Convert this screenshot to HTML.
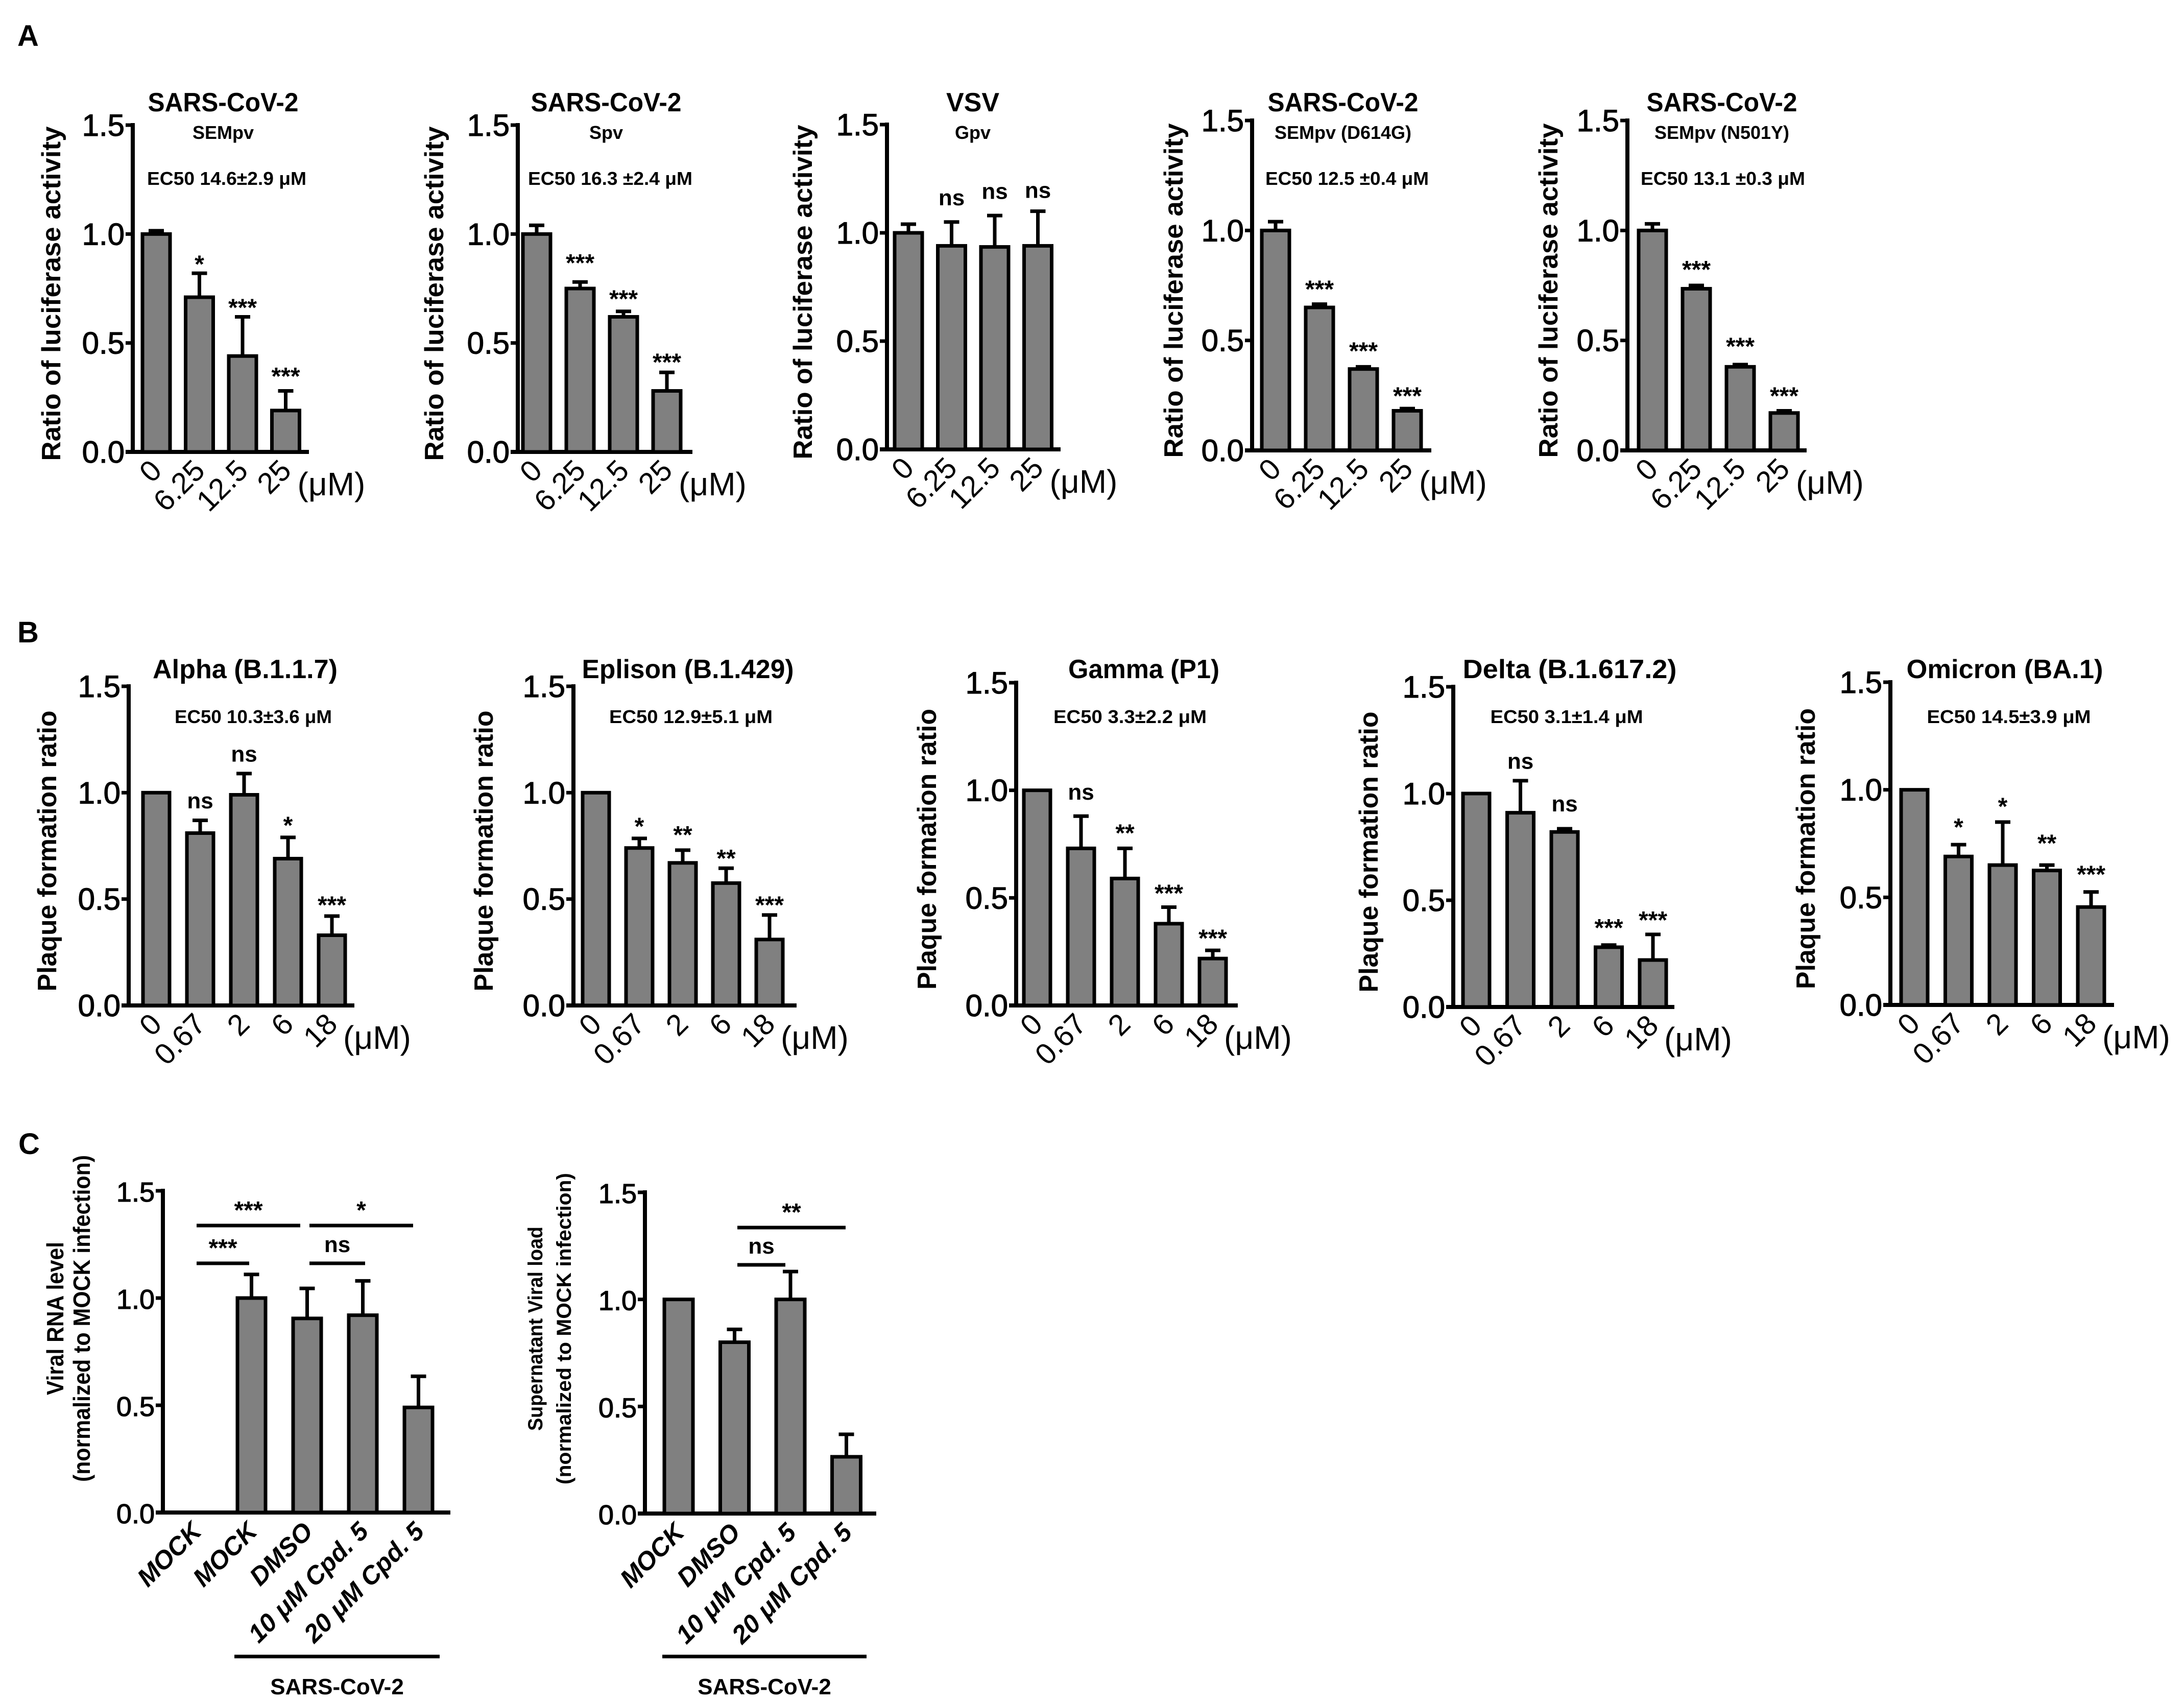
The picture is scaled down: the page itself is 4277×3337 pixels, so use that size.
<!DOCTYPE html>
<html><head><meta charset="utf-8"><style>
html,body{margin:0;padding:0;background:#fff}
svg{display:block}
text{font-family:"Liberation Sans",sans-serif;fill:#000}
</style></head><body>
<svg id="fig" width="4277" height="3337" viewBox="0 0 4277 3337" xmlns="http://www.w3.org/2000/svg">
<text x="34" y="90" font-size="58" font-weight="bold">A</text>
<text x="34" y="1258" font-size="58" font-weight="bold">B</text>
<text x="36" y="2260" font-size="58" font-weight="bold">C</text>
</svg>
<script>
// ---------- data ----------
const doseA = ["0","6.25","12.5","25"];
const doseB = ["0","0.67","2","6","18"];
const a1Values = [1.0, 0.71, 0.44, 0.19];
const a1Err = [1.015, 0.82, 0.62, 0.28];
const a1Sig = ["", "*", "***", "***"];
const a1SigY = [0, 0.89, 0.69, 0.375];
const a2Values = [1.0, 0.75, 0.62, 0.28];
const a2Err = [1.04, 0.78, 0.645, 0.365];
const a2Sig = ["", "***", "***", "***"];
const a2SigY = [0, 0.895, 0.73, 0.44];
const a3Values = [1.0, 0.94, 0.935, 0.94];
const a3Err = [1.04, 1.05, 1.08, 1.10];
const a3Sig = ["", "ns", "ns", "ns"];
const a3SigY = [0, 1.16, 1.19, 1.195];
const a4Values = [1.0, 0.65, 0.37, 0.18];
const a4Err = [1.04, 0.665, 0.38, 0.19];
const a4Sig = ["", "***", "***", "***"];
const a4SigY = [0, 0.76, 0.48, 0.275];
const a5Values = [1.0, 0.735, 0.38, 0.17];
const a5Err = [1.03, 0.75, 0.39, 0.18];
const a5Sig = ["", "***", "***", "***"];
const a5SigY = [0, 0.85, 0.5, 0.275];
const b1Values = [1.0, 0.81, 0.99, 0.69, 0.33];
const b1Err = [1.0, 0.87, 1.09, 0.79, 0.42];
const b1Sig = ["", "ns", "ns", "*", "***"];
const b1SigY = [0, 0.96, 1.18, 0.875, 0.5];
const b2Values = [1.0, 0.74, 0.67, 0.575, 0.31];
const b2Err = [1.0, 0.785, 0.73, 0.645, 0.425];
const b2Sig = ["", "*", "**", "**", "***"];
const b2SigY = [0, 0.87, 0.83, 0.72, 0.5];
const b3Values = [1.0, 0.73, 0.59, 0.38, 0.218];
const b3Err = [1.0, 0.88, 0.73, 0.457, 0.256];
const b3Sig = ["", "ns", "**", "***", "***"];
const b3SigY = [0, 0.99, 0.83, 0.55, 0.34];
const b4Values = [1.0, 0.91, 0.82, 0.28, 0.22];
const b4Err = [1.0, 1.06, 0.835, 0.29, 0.34];
const b4Sig = ["", "ns", "ns", "***", "***"];
const b4SigY = [0, 1.15, 0.95, 0.4, 0.435];
const b5Values = [1.0, 0.69, 0.65, 0.625, 0.455];
const b5Err = [1.0, 0.745, 0.85, 0.65, 0.525];
const b5Sig = ["", "*", "*", "**", "***"];
const b5SigY = [0, 0.855, 0.95, 0.78, 0.635];
const c1Cats = ["MOCK","MOCK","DMSO","10 \u03bcM Cpd. 5","20 \u03bcM Cpd. 5"];
const c1Values = [0, 1.0, 0.905, 0.92, 0.49];
const c1Err = [0, 1.11, 1.045, 1.08, 0.635];
const c2Cats = ["MOCK","DMSO","10 \u03bcM Cpd. 5","20 \u03bcM Cpd. 5"];
const c2Values = [1.0, 0.8, 1.0, 0.265];
const c2Err = [1.0, 0.86, 1.13, 0.37];
const yTicks = [0, 0.5, 1.0, 1.5];
const yTickLabels = ["0.0","0.5","1.0","1.5"];

// ---------- drawing ----------
const svg = document.getElementById('fig');
const NS = 'http://www.w3.org/2000/svg';
function mk(tag, attrs, parent){
  const e = document.createElementNS(NS, tag);
  for (const k in attrs) e.setAttribute(k, attrs[k]);
  (parent||svg).appendChild(e);
  return e;
}
function txt(s, attrs, parent){ const t = mk('text', attrs, parent); t.textContent = s; return t; }

function panel(p){
  const g = mk('g', {});
  
  
  const unit = (p.y0 - p.y15) / 1.5;
  const yS = v => p.y0 - v * unit;
  const ax = mk('line', {x1:p.ax, y1:p.y15-4, x2:p.ax, y2:p.y0+4, stroke:'#000','stroke-width':8}, g);
  
  
  const bx = mk('line', {x1:p.ax-14, y1:p.y0, x2:p.xEnd, y2:p.y0, stroke:'#000','stroke-width':8}, g);
  
  
  yTicks.forEach((v,i)=>{
    mk('line', {x1:p.ax-14, y1:yS(v), x2:p.ax, y2:yS(v), stroke:'#000','stroke-width':7}, g);
    const t = txt(yTickLabels[i], {x:p.ax-16, y:yS(v)+21, 'font-size':p.tickFs||60, 'text-anchor':'end', stroke:'#000', 'stroke-width':1.2}, g);
    
    
  });
  p.ylab.forEach(l=>{
    const t = txt(l.s, {x:0, y:0, 'font-size':l.fs, 'font-weight':'bold', 'text-anchor':'middle',
      transform:`translate(${l.x},${l.y}) rotate(-90)`, textLength:l.len, lengthAdjust:'spacingAndGlyphs'}, g);
    
    
  });
  p.values.forEach((v,i)=>{
    const x = p.bar0 + i*p.step;
    const cx = x + p.bw/2;
    if (v > 0){
      if (p.err[i] > v + 0.003){
        const e1 = mk('line', {x1:cx, y1:yS(v), x2:cx, y2:yS(p.err[i]), stroke:'#000','stroke-width':7}, g);
        
        
        mk('line', {x1:cx-15, y1:yS(p.err[i]), x2:cx+15, y2:yS(p.err[i]), stroke:'#000','stroke-width':7}, g);
      }
      const r = mk('rect', {x:x, y:yS(v), width:p.bw, height:p.y0-yS(v), fill:'#808080', stroke:'#000','stroke-width':7}, g);
      
      
    }
    if (p.sig && p.sig[i]){
      const s = p.sig[i];
      const star = s.indexOf('*')>=0;
      const t = txt(s, {x:cx, y:yS(p.sigY[i]) + (star?28:14), 'font-size': star?48:44, 'text-anchor':'middle', 'font-weight':'bold'}, g);
      
      
    }
    const lab = p.cats[i];
    const tx = cx + 14, ty = p.y0 + (p.xlOff||42);
    const t = txt(lab, {x:0, y:0, 'font-size':p.xFs||58, 'text-anchor':'end', 'font-style':p.italic?'italic':'normal', 'font-weight':p.italic?'bold':'normal',
      transform:`translate(${tx},${ty}) rotate(-45)`}, g);
    
    
  });
  if (p.unitX){
    const t = txt('(\u03bcM)', {x:p.unitX, y:p.y0+85, 'font-size':64}, g);
    
    
  }
  (p.titles||[]).forEach(tt=>{
    const a = {x:tt.x, y:tt.y, 'font-size':tt.fs, 'font-weight':'bold', 'text-anchor':'middle'};
    if (tt.len){ a.textLength = tt.len; a.lengthAdjust='spacingAndGlyphs'; }
    const t = txt(tt.s, a, g);
    
    
  });
  return {g, yS};
}

function aPanel(name, ax, y15, y0, bar0, step, xEnd, vals, err, sig, sigY, t1, t1x, sub, ec, ecX, ecLen, ylx){
  const yc = (y15 + y0)/2;
  panel({name, ax, y15, y0, bar0, step, bw:54, xEnd, values:vals, err, sig, sigY, cats:doseA,
    unitX: bar0 + 3*step + 50, xlOff:40,
    ylab:[{s:'Ratio of luciferase activity', x:ylx, y:yc+10, fs:52, len:655}],
    titles:[{s:t1, x:t1x, y:218, fs:52, n:'chart-title', len: t1.length>4?295:null},
            {s:sub, x:t1x, y:272, fs:36, n:'chart-subtitle'},
            ...(ec?[{s:ec, x:ecX, y:362, fs:36, n:'ec50-label', len:ecLen}]:[])]});
}
aPanel('panel-a1', 260, 245, 885, 279, 84.5, 605, a1Values, a1Err, a1Sig, a1SigY, 'SARS-CoV-2', 437, 'SEMpv', 'EC50 14.6\u00b12.9 \u03bcM', 444, 312, 118);
aPanel('panel-a2', 1014, 245, 885, 1024, 85, 1356, a2Values, a2Err, a2Sig, a2SigY, 'SARS-CoV-2', 1187, 'Spv', 'EC50 16.3 \u00b12.4 \u03bcM', 1195, 322, 868);
aPanel('panel-a3', 1737, 244, 880, 1752, 84.5, 2077, a3Values, a3Err, a3Sig, a3SigY, 'VSV', 1905, 'Gpv', null, 0, 0, 1590);
aPanel('panel-a4', 2452, 236, 882, 2471, 86, 2803, a4Values, a4Err, a4Sig, a4SigY, 'SARS-CoV-2', 2630, 'SEMpv (D614G)', 'EC50 12.5 \u00b10.4 \u03bcM', 2638, 320, 2316);
aPanel('panel-a5', 3187, 236, 882, 3209, 86, 3538, a5Values, a5Err, a5Sig, a5SigY, 'SARS-CoV-2', 3372, 'SEMpv (N501Y)', 'EC50 13.1 \u00b10.3 \u03bcM', 3374, 322, 3050);

function bPanel(name, ax, y15, y0, bar0, step, xEnd, vals, err, sig, sigY, title, tx, tlen, ec, ecX, ecLen, ylx){
  panel({name, ax, y15, y0, bar0, step, bw:52, xEnd, values:vals, err, sig, sigY, cats:doseB,
    unitX: bar0 + 4*step + 48, xlOff:40,
    ylab:[{s:'Plaque formation ratio', x:ylx, y:(y15+y0)/2+10, fs:52, len:550}],
    titles:[{s:title, x:tx, y:1328, fs:52, n:'chart-title', len:tlen},
            {s:ec, x:ecX, y:1416, fs:36, n:'ec50-label', len:ecLen}]});
}
bPanel('panel-b1', 252, 1344, 1969, 280, 86, 694, b1Values, b1Err, b1Sig, b1SigY, 'Alpha (B.1.1.7)', 480, 362, 'EC50 10.3\u00b13.6 \u03bcM', 496, 308, 110);
bPanel('panel-b2', 1123, 1344, 1969, 1141, 85, 1560, b2Values, b2Err, b2Sig, b2SigY, 'Eplison (B.1.429)', 1347, 415, 'EC50  12.9\u00b15.1 \u03bcM', 1353, 320, 965);
bPanel('panel-b3', 1990, 1337, 1969, 2005, 86, 2424, b3Values, b3Err, b3Sig, b3SigY, 'Gamma (P1)', 2240, 296, 'EC50  3.3\u00b12.2 \u03bcM', 2213, 300, 1833);
bPanel('panel-b4', 2846, 1345, 1972, 2865, 86.5, 3279, b4Values, b4Err, b4Sig, b4SigY, 'Delta (B.1.617.2)', 3074, 419, 'EC50  3.1\u00b11.4 \u03bcM', 3068, 299, 2698);
bPanel('panel-b5', 3702, 1336, 1968, 3723, 86.5, 4140, b5Values, b5Err, b5Sig, b5SigY, 'Omicron (BA.1)', 3926, 385, 'EC50  14.5\u00b13.9 \u03bcM', 3934, 321, 3554);

const c1 = panel({name:'panel-c1', ax:319, y15:2332, y0:2962, bar0:356, step:109, bw:55, xEnd:882,
  values:c1Values, err:c1Err, cats:c1Cats, italic:true, xFs:50, xlOff:40, tickFs:54,
  ylab:[{s:'Viral RNA level', x:124, y:2582, fs:46, len:300},
        {s:'(normalized to MOCK infection)', x:176, y:2582, fs:46, len:640}]});
const c2 = panel({name:'panel-c2', ax:1263, y15:2335, y0:2964, bar0:1301, step:109.5, bw:56, xEnd:1716,
  values:c2Values, err:c2Err, cats:c2Cats, italic:true, xFs:50, xlOff:40, tickFs:54,
  ylab:[{s:'Supernatant Viral load', x:1062, y:2602, fs:40, len:400},
        {s:'(normalized to MOCK infection)', x:1118, y:2602, fs:40, len:610}]});

function sigLine(x1, x2, y, label, name){
  const l = mk('line', {x1, y1:y, x2, y2:y, stroke:'#000','stroke-width':7});
  
  
  const star = label.indexOf('*')>=0;
  const t = txt(label, {x:(x1+x2)/2, y: y - (star?14:22), 'font-size':star?48:44, 'font-weight':'bold', 'text-anchor':'middle'});
  
  
}
sigLine(385, 588, 2400, '***', 'comparison-line');
sigLine(606, 809, 2400, '*', 'comparison-line');
sigLine(385, 488, 2474, '***', 'comparison-line');
sigLine(606, 715, 2474, 'ns', 'comparison-line');
sigLine(1444, 1656, 2404, '**', 'comparison-line');
sigLine(1444, 1538, 2477, 'ns', 'comparison-line');

function group(x1, x2, name){
  const l = mk('line', {x1, y1:3244, x2, y2:3244, stroke:'#000','stroke-width':7});
  
  
  const t = txt('SARS-CoV-2', {x:(x1+x2)/2, y:3318, 'font-size':44, 'font-weight':'bold', 'text-anchor':'middle'});
  
  
}
group(459, 861, 'group-bracket');
group(1297, 1697, 'group-bracket');
</script>
</body></html>
